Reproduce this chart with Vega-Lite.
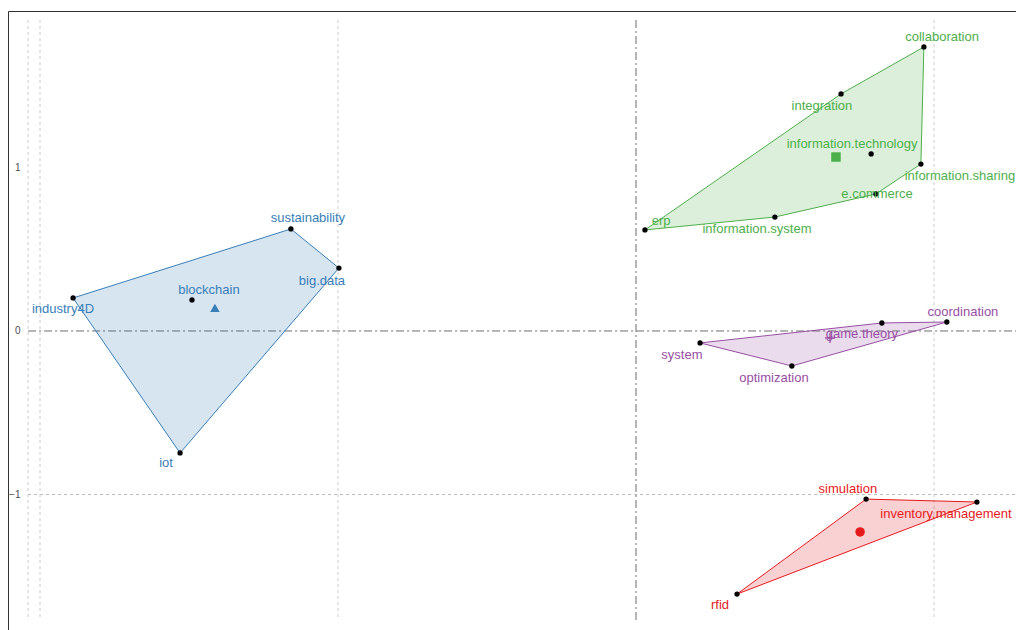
{
  "$schema": "https://vega.github.io/schema/vega-lite/v6.json",
  "width": 1020,
  "height": 622,
  "autosize": {"type": "none"},
  "padding": {"left": 8, "top": 11, "right": 0, "bottom": 0},
  "background": "white",
  "config": {"view": {"stroke": "#333333", "strokeWidth": 1}, "font": "Liberation Sans"},
  "datasets": {
    "kw": [
      {"k": "industry4D", "c": "c1", "x": -1.889, "y": 0.202, "lx": -1.923, "ly": 0.135},
      {"k": "sustainability", "c": "c1", "x": -1.158, "y": 0.624, "lx": -1.101, "ly": 0.691},
      {"k": "big.data", "c": "c1", "x": -0.997, "y": 0.385, "lx": -1.054, "ly": 0.306},
      {"k": "blockchain", "c": "c1", "x": -1.490, "y": 0.190, "lx": -1.433, "ly": 0.251},
      {"k": "iot", "c": "c1", "x": -1.530, "y": -0.746, "lx": -1.577, "ly": -0.807},
      {"k": "collaboration", "c": "c2", "x": 0.966, "y": 1.737, "lx": 1.027, "ly": 1.798},
      {"k": "integration", "c": "c2", "x": 0.688, "y": 1.450, "lx": 0.624, "ly": 1.376},
      {"k": "information.technology", "c": "c2", "x": 0.789, "y": 1.083, "lx": 0.725, "ly": 1.144},
      {"k": "information.sharing", "c": "c2", "x": 0.956, "y": 1.021, "lx": 1.087, "ly": 0.948},
      {"k": "e.commerce", "c": "c2", "x": 0.805, "y": 0.838, "lx": 0.809, "ly": 0.838},
      {"k": "information.system", "c": "c2", "x": 0.466, "y": 0.697, "lx": 0.406, "ly": 0.624},
      {"k": "erp", "c": "c2", "x": 0.030, "y": 0.618, "lx": 0.084, "ly": 0.673},
      {"k": "coordination", "c": "c3", "x": 1.043, "y": 0.055, "lx": 1.097, "ly": 0.116},
      {"k": "game.theory", "c": "c3", "x": 0.825, "y": 0.049, "lx": 0.758, "ly": -0.018},
      {"k": "system", "c": "c3", "x": 0.215, "y": -0.073, "lx": 0.154, "ly": -0.147},
      {"k": "optimization", "c": "c3", "x": 0.523, "y": -0.214, "lx": 0.463, "ly": -0.287},
      {"k": "simulation", "c": "c4", "x": 0.772, "y": -1.028, "lx": 0.711, "ly": -0.966},
      {"k": "inventory.management", "c": "c4", "x": 1.144, "y": -1.046, "lx": 1.040, "ly": -1.119},
      {"k": "rfid", "c": "c4", "x": 0.339, "y": -1.609, "lx": 0.282, "ly": -1.676}
    ],
    "hull": [
      {"c": "c1", "o": 1, "x": -1.889, "y": 0.202},
      {"c": "c1", "o": 2, "x": -1.158, "y": 0.624},
      {"c": "c1", "o": 3, "x": -0.997, "y": 0.385},
      {"c": "c1", "o": 4, "x": -1.530, "y": -0.746},
      {"c": "c1", "o": 5, "x": -1.889, "y": 0.202},
      {"c": "c2", "o": 1, "x": 0.030, "y": 0.618},
      {"c": "c2", "o": 2, "x": 0.688, "y": 1.450},
      {"c": "c2", "o": 3, "x": 0.966, "y": 1.737},
      {"c": "c2", "o": 4, "x": 0.956, "y": 1.021},
      {"c": "c2", "o": 5, "x": 0.805, "y": 0.838},
      {"c": "c2", "o": 6, "x": 0.466, "y": 0.697},
      {"c": "c2", "o": 7, "x": 0.030, "y": 0.618},
      {"c": "c3", "o": 1, "x": 0.215, "y": -0.073},
      {"c": "c3", "o": 2, "x": 0.825, "y": 0.049},
      {"c": "c3", "o": 3, "x": 1.043, "y": 0.055},
      {"c": "c3", "o": 4, "x": 0.523, "y": -0.214},
      {"c": "c3", "o": 5, "x": 0.215, "y": -0.073},
      {"c": "c4", "o": 1, "x": 0.772, "y": -1.028},
      {"c": "c4", "o": 2, "x": 1.144, "y": -1.046},
      {"c": "c4", "o": 3, "x": 0.339, "y": -1.609},
      {"c": "c4", "o": 4, "x": 0.772, "y": -1.028}
    ],
    "cent": [
      {"c": "c1", "x": -1.413, "y": 0.141},
      {"c": "c2", "x": 0.671, "y": 1.064},
      {"c": "c3", "x": 0.651, "y": -0.043},
      {"c": "c4", "x": 0.752, "y": -1.229}
    ],
    "vgrid": [
      {"x": -2.040, "y1": 1.902, "y2": -1.768},
      {"x": -2, "y1": 1.902, "y2": -1.768},
      {"x": -1, "y1": 1.902, "y2": -1.768},
      {"x": 1, "y1": 1.902, "y2": -1.768}
    ],
    "hgrid": [
      {"y": -1, "x1": -2.040, "x2": 1.3154}
    ],
    "vzero": [
      {"x": 0, "y1": 1.902, "y2": -1.768}
    ],
    "hzero": [
      {"y": 0, "x1": -2.040, "x2": 1.3154}
    ]
  },
  "layer": [
    {
      "data": {"name": "vgrid"},
      "mark": {"type": "rule", "color": "#cccccc", "strokeWidth": 1, "strokeDash": [3, 3]},
      "encoding": {
        "x": {"field": "x", "type": "quantitative", "scale": {"domain": [-2.1074, 1.3154], "nice": false, "zero": false}, "axis": null},
        "y": {"field": "y1", "type": "quantitative", "scale": {"domain": [-1.847, 1.957], "nice": false, "zero": false}, "axis": {"orient": "left", "values": [-1, 0, 1], "format": "d", "domain": false, "ticks": false, "grid": false, "labelPadding": 0, "offset": -12, "labelFontSize": 10, "labelColor": "#4d4d4d", "labelFont": "Liberation Sans", "title": null}},
        "y2": {"field": "y2"}
      }
    },
    {
      "data": {"name": "hgrid"},
      "mark": {"type": "rule", "color": "#bbbbbb", "strokeWidth": 1, "strokeDash": [3, 3]},
      "encoding": {
        "y": {"field": "y", "type": "quantitative"},
        "x": {"field": "x1", "type": "quantitative"},
        "x2": {"field": "x2"}
      }
    },
    {
      "data": {"name": "vzero"},
      "mark": {"type": "rule", "color": "#6e6e6e", "strokeWidth": 1, "strokeDash": [8, 3, 2, 3]},
      "encoding": {
        "x": {"field": "x", "type": "quantitative"},
        "y": {"field": "y1", "type": "quantitative"},
        "y2": {"field": "y2"}
      }
    },
    {
      "data": {"name": "hzero"},
      "mark": {"type": "rule", "color": "#6e6e6e", "strokeWidth": 1, "strokeDash": [8, 3, 2, 3]},
      "encoding": {
        "y": {"field": "y", "type": "quantitative"},
        "x": {"field": "x1", "type": "quantitative"},
        "x2": {"field": "x2"}
      }
    },
    {
      "data": {"name": "hull"},
      "mark": {"type": "line", "strokeWidth": 1, "fillOpacity": 0.2, "interpolate": "linear"},
      "encoding": {
        "x": {"field": "x", "type": "quantitative"},
        "y": {"field": "y", "type": "quantitative"},
        "order": {"field": "o", "type": "quantitative"},
        "color": {"field": "c", "type": "nominal", "scale": {"domain": ["c1", "c2", "c3", "c4"], "range": ["#377EB8", "#4DAF4A", "#984EA3", "#E41A1C"]}, "legend": null},
        "fill": {"field": "c", "type": "nominal", "scale": {"domain": ["c1", "c2", "c3", "c4"], "range": ["#377EB8", "#4DAF4A", "#984EA3", "#E41A1C"]}, "legend": null}
      }
    },
    {
      "data": {"name": "kw"},
      "mark": {"type": "point", "filled": true, "color": "black", "size": 28, "opacity": 1},
      "encoding": {
        "x": {"field": "x", "type": "quantitative"},
        "y": {"field": "y", "type": "quantitative"}
      }
    },
    {
      "data": {"name": "cent"},
      "transform": [{"filter": "datum.c !== 'c3'"}],
      "mark": {"type": "point", "filled": true, "opacity": 1, "size": 90},
      "encoding": {
        "x": {"field": "x", "type": "quantitative"},
        "y": {"field": "y", "type": "quantitative"},
        "shape": {"field": "c", "type": "nominal", "scale": {"domain": ["c1", "c2", "c4"], "range": ["triangle-up", "square", "circle"]}, "legend": null},
        "color": {"field": "c", "type": "nominal", "scale": {"domain": ["c1", "c2", "c3", "c4"], "range": ["#377EB8", "#4DAF4A", "#984EA3", "#E41A1C"]}, "legend": null}
      }
    },
    {
      "data": {"name": "cent"},
      "transform": [{"filter": "datum.c === 'c3'"}],
      "mark": {"type": "point", "filled": false, "opacity": 1, "size": 100, "strokeWidth": 1.3, "shape": "M-1,0L1,0M0,-1L0,1"},
      "encoding": {
        "x": {"field": "x", "type": "quantitative"},
        "y": {"field": "y", "type": "quantitative"},
        "color": {"field": "c", "type": "nominal", "scale": {"domain": ["c1", "c2", "c3", "c4"], "range": ["#377EB8", "#4DAF4A", "#984EA3", "#E41A1C"]}, "legend": null}
      }
    },
    {
      "data": {"name": "kw"},
      "mark": {"type": "text", "fontSize": 13, "align": "center", "baseline": "middle"},
      "encoding": {
        "x": {"field": "lx", "type": "quantitative"},
        "y": {"field": "ly", "type": "quantitative"},
        "text": {"field": "k", "type": "nominal"},
        "color": {"field": "c", "type": "nominal", "scale": {"domain": ["c1", "c2", "c3", "c4"], "range": ["#377EB8", "#4DAF4A", "#984EA3", "#E41A1C"]}, "legend": null}
      }
    }
  ]
}
